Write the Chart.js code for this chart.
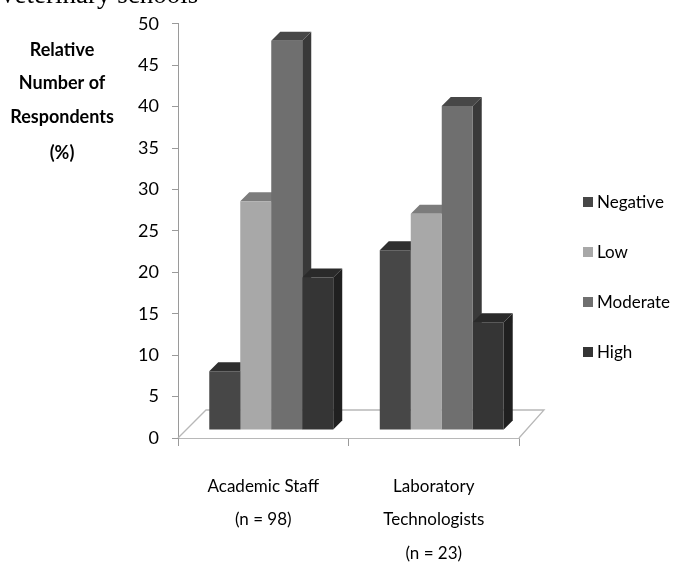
<!DOCTYPE html>
<html>
<head>
<meta charset="utf-8">
<script src="https://cdn.jsdelivr.net/npm/chart.js@4.4.1/dist/chart.umd.min.js"></script>
<style>
body { margin: 0; background: #fff; }
#wrap { position: relative; width: 677px; height: 565px; }
</style>
</head>
<body>
<div id="wrap"><canvas id="myChart"></canvas></div>
<script>
// values (% of respondents)
const groups = [['Academic Staff', '(n = 98)'], ['Laboratory', 'Technologists', '(n = 23)']];
const seriesNames = ['Negative', 'Low', 'Moderate', 'High'];
const negative = [7.1, 21.7];
const low = [27.6, 26.1];
const moderate = [47.0, 39.1];
const high = [18.4, 13.0];
const yMax = 50;
const yStep = 5;
const yTitle = ['Relative', 'Number of', 'Respondents', '(%)'];

// front / top / side shades for the fake 3d look
const fronts = ['#474747', '#a8a8a8', '#6f6f6f', '#353535'];
const tops = ['#2f2f2f', '#7c7c7c', '#474747', '#2a2a2a'];
const sides = ['#2a2a2a', '#6a6a6a', '#393939', '#202020'];

const shift = { x: 8, y: -8 };   // bars sit a bit back on the floor
const depth = { x: 9, y: -9 };   // bar thickness
const floorDepth = 28;

const poly = (ctx, pts, color) => {
    ctx.beginPath();
    ctx.moveTo(pts[0][0], pts[0][1]);
    pts.slice(1).forEach(p => ctx.lineTo(p[0], p[1]));
    ctx.closePath();
    ctx.fillStyle = color;
    ctx.fill();
};

const bars3d = {
    id: 'bars3d',
    beforeDatasetsDraw(chart) {
        const { ctx, chartArea: a } = chart;
        ctx.save();
        ctx.beginPath();
        ctx.moveTo(a.left, a.bottom);
        ctx.lineTo(a.left + floorDepth, a.bottom - floorDepth);
        ctx.lineTo(a.right + floorDepth - 3, a.bottom - floorDepth);
        ctx.lineTo(a.right, a.bottom);
        ctx.strokeStyle = '#b8b8b8';
        ctx.lineWidth = 1.3;
        ctx.stroke();

        // side and top faces, left to right; the fronts come later from chart.js
        ctx.translate(shift.x, shift.y);
        chart.data.datasets.forEach((ds, i) => {
            chart.getDatasetMeta(i).data.forEach(bar => {
                const l = bar.x - bar.width / 2, r = bar.x + bar.width / 2;
                const t = bar.y, b = bar.base;
                poly(ctx, [[r, t], [r + depth.x, t + depth.y], [r + depth.x, b + depth.y], [r, b]], sides[i]);
                poly(ctx, [[l, t], [l + depth.x, t + depth.y], [r + depth.x, t + depth.y], [r, t]], tops[i]);
            });
        });
        ctx.restore();
    },
    beforeDatasetDraw(chart) {
        chart.ctx.save();
        chart.ctx.translate(shift.x, shift.y);
    },
    afterDatasetDraw(chart) {
        chart.ctx.restore();
    },
    afterDraw(chart) {
        const ctx = chart.ctx;
        ctx.save();
        // cut-off caption line at the very top
        ctx.fillStyle = '#000';
        ctx.font = '27px "Liberation Serif"';
        ctx.textBaseline = 'alphabetic';
        ctx.textAlign = 'left';
        ctx.fillText('Veterinary schools', -2, 3);

        // y title
        ctx.font = 'bold 18px Lato';
        ctx.textAlign = 'center';
        ctx.textBaseline = 'middle';
        [50, 83, 117, 153].forEach((y, k) => ctx.fillText(yTitle[k], 62, y));

        // legend
        ctx.font = '17px Lato';
        ctx.textAlign = 'left';
        seriesNames.forEach((name, k) => {
            const y = 202 + k * 50;
            ctx.fillStyle = fronts[k];
            ctx.fillRect(583, y - 5, 10, 10);
            ctx.fillStyle = '#000';
            ctx.fillText(name, 597, y + 1);
        });
        ctx.restore();
    }
};

const ctx = document.getElementById('myChart');

new Chart(ctx, {
    type: 'bar',
    data: {
        labels: groups,
        datasets: [negative, low, moderate, high].map((vals, k) => ({
            label: seriesNames[k],
            data: vals,
            backgroundColor: fronts[k],
            borderWidth: 0,
            clip: false,
            categoryPercentage: 0.727,
            barPercentage: 1.0
        }))
    },
    options: {
        responsive: true,
        maintainAspectRatio: false,
        animation: false,
        layout: { padding: { top: 17, right: 158, left: 0, bottom: 0 } },
        plugins: {
            legend: { display: false },
            tooltip: { enabled: false }
        },
        scales: {
            x: {
                grid: { drawOnChartArea: false, tickLength: 8, color: '#9a9a9a', offset: true },
                border: { color: '#b8b8b8' },
                ticks: {
                    color: '#000',
                    maxRotation: 0,
                    padding: 24,
                    font: { family: 'Lato', size: 17, lineHeight: 1.96 }
                },
                afterFit: scale => { scale.height = 127; }
            },
            y: {
                min: 0,
                max: yMax,
                ticks: {
                    stepSize: yStep,
                    color: '#000',
                    padding: 13,
                    font: { family: 'Lato', size: 18 }
                },
                grid: { drawOnChartArea: false, tickLength: 6, color: '#9a9a9a' },
                border: { color: '#9a9a9a' },
                afterFit: scale => { scale.width = 178; }
            }
        }
    },
    plugins: [bars3d]
});
</script>
</body>
</html>
